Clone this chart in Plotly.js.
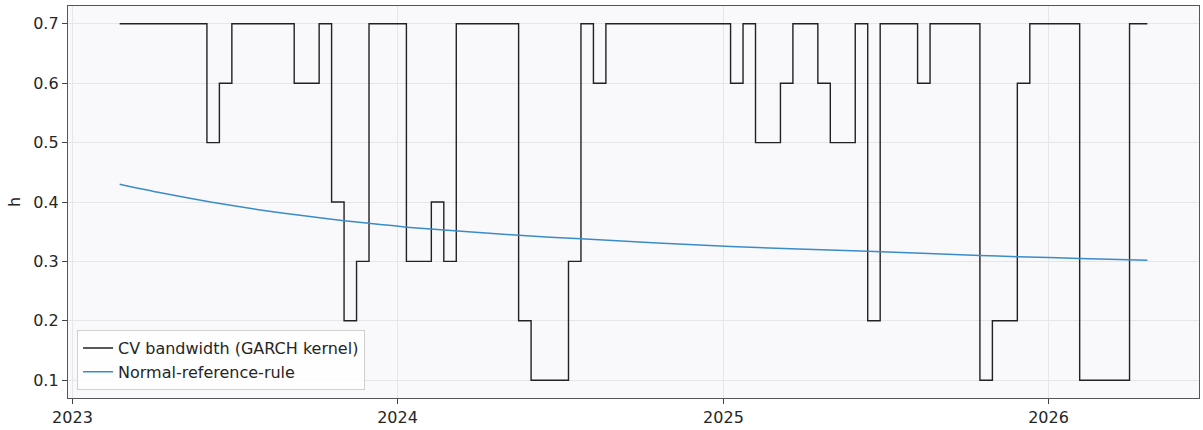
<!DOCTYPE html>
<html>
<head>
<meta charset="utf-8">
<script src="https://cdn.plot.ly/plotly-3.0.1.min.js"></script>
<style>html,body{margin:0;padding:0;background:#fff;}#chart{width:1203px;height:430px;}</style>
</head>
<body>
<div id="chart"></div>
<script>
// CV bandwidth (step changes, biweekly grid)
const cvDates = [
  "2023-02-23","2023-06-01","2023-06-15","2023-06-29","2023-09-07","2023-10-05",
  "2023-10-19","2023-11-02","2023-11-16","2023-11-30","2024-01-11","2024-02-08",
  "2024-02-22","2024-03-07","2024-05-16","2024-05-30","2024-07-11","2024-07-25",
  "2024-08-08","2024-08-22","2025-01-09","2025-01-23","2025-02-06","2025-03-06",
  "2025-03-20","2025-04-17","2025-05-01","2025-05-29","2025-06-12","2025-06-26",
  "2025-08-07","2025-08-21","2025-10-16","2025-10-30","2025-11-27","2025-12-11",
  "2026-02-05","2026-04-02","2026-04-22"
];
const cvValues = [
  0.7,0.5,0.6,0.7,0.6,0.7,
  0.4,0.2,0.3,0.7,0.3,0.4,
  0.3,0.7,0.2,0.1,0.3,0.7,
  0.6,0.7,0.6,0.7,0.5,0.6,
  0.7,0.6,0.5,0.7,0.2,0.7,
  0.6,0.7,0.1,0.2,0.6,0.7,
  0.1,0.7,0.7
];
// Normal-reference-rule bandwidth
const nrrDates = [
  "2023-02-23","2023-04-10","2023-06-05","2023-07-31","2023-09-18","2023-11-02",
  "2023-11-30","2024-01-15","2024-05-16","2024-07-25","2025-01-09","2025-06-12",
  "2025-10-16","2025-11-27","2026-02-05","2026-04-22"
];
const nrrValues = [
  0.430,0.4155,0.400,0.3865,0.3767,0.3686,
  0.3641,0.3572,0.344,0.338,0.325,0.317,
  0.310,0.308,0.305,0.302
];
const yTicks = [0.1,0.2,0.3,0.4,0.5,0.6,0.7];
const yTickLabels = ["0.1","0.2","0.3","0.4","0.5","0.6","0.7"];
const xTicks = ["2023-01-01","2024-01-01","2025-01-01","2026-01-01"];
const xTickLabels = ["2023","2024","2025","2026"];

const traces = [
  {x: cvDates, y: cvValues, type: "scatter", mode: "lines",
   name: "CV bandwidth (GARCH kernel)",
   line: {shape: "hv", color: "#222222", width: 1.4}},
  {x: nrrDates, y: nrrValues, type: "scatter", mode: "lines",
   name: "Normal-reference-rule",
   line: {shape: "spline", smoothing: 0.6, color: "#3a8cc9", width: 1.5}}
];

const layout = {
  width: 1203, height: 430,
  margin: {l: 68, r: 4, t: 6, b: 32, pad: 0},
  paper_bgcolor: "#ffffff",
  plot_bgcolor: "#f9f9fb",
  font: {family: "DejaVu Sans, sans-serif", size: 16, color: "#262626"},
  showlegend: true,
  legend: {x: 0.008, y: 0.02, xanchor: "left", yanchor: "bottom",
           bgcolor: "rgba(255,255,255,0.8)", bordercolor: "#d0d0d0", borderwidth: 1,
           font: {size: 16, color: "#262626"}, tracegroupgap: 0},
  xaxis: {
    type: "date",
    range: ["2022-12-27", "2026-06-19"],
    tickvals: xTicks, ticktext: xTickLabels,
    tickfont: {size: 16},
    ticks: "outside", ticklen: 5, tickwidth: 1, tickcolor: "#444",
    showgrid: true, gridcolor: "#e6e6e9", gridwidth: 1,
    showline: true, linecolor: "#555", linewidth: 1.2, mirror: true,
    zeroline: false
  },
  yaxis: {
    range: [0.07, 0.73],
    tickvals: yTicks, ticktext: yTickLabels,
    tickfont: {size: 16},
    ticks: "outside", ticklen: 5, tickwidth: 1, tickcolor: "#444",
    showgrid: true, gridcolor: "#e6e6e9", gridwidth: 1,
    showline: true, linecolor: "#555", linewidth: 1.2, mirror: true,
    zeroline: false,
    title: {text: "h", standoff: 8, font: {size: 16}}
  }
};

Plotly.newPlot("chart", traces, layout, {displayModeBar: false, staticPlot: true});
</script>
</body>
</html>
